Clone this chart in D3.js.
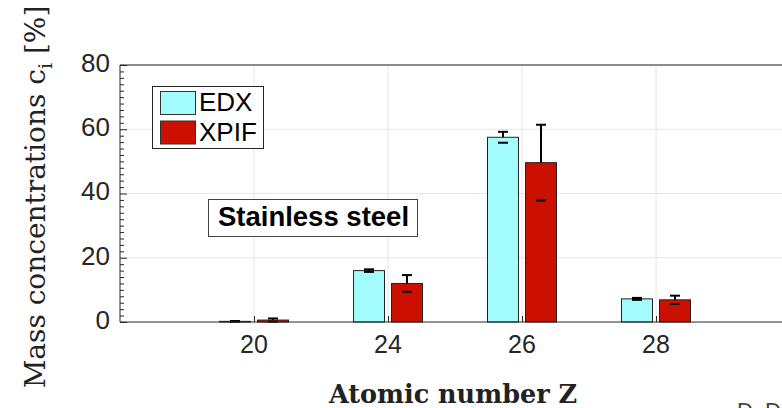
<!DOCTYPE html>
<html>
<head>
<meta charset="utf-8">
<script src="https://cdn.jsdelivr.net/npm/d3@7"></script>
<style>
  body { margin: 0; background: #fff; }
  svg { display: block; }
</style>
</head>
<body>
<div id="chart"></div>
<script>
// datos
var elementos = ["20", "24", "26", "28"];
var series = ["EDX", "XPIF"];
var edx = [0.2, 16.0, 57.5, 7.2];
var edxErr = [0.1, 0.4, 1.7, 0.3];
var xpif = [0.6, 12.0, 49.6, 6.9];
var xpifErr = [0.5, 2.6, 11.8, 1.3];
var yTicks = [0, 20, 40, 60, 80];

var colores = { EDX: "#a3fdff", XPIF: "#cc1000" };

var width = 782, height = 408;
var mLeft = 120, mRight = 790, mTop = 65, mBottom = 322;

var svg = d3.select("#chart").append("svg")
    .attr("width", width)
    .attr("height", height);

var x = d3.scalePoint().domain(elementos).range([mLeft, mRight]).padding(1);
var sub = d3.scaleBand().domain(series).range([-34.5, 34.5]).paddingInner(0.184);
var y = d3.scaleLinear().domain([0, 80]).range([mBottom, mTop]);

// rejilla
svg.append("g").selectAll("line")
    .data(yTicks.slice(1))
  .enter().append("line")
    .attr("x1", mLeft).attr("x2", mRight)
    .attr("y1", function(d) { return y(d); })
    .attr("y2", function(d) { return y(d); })
    .attr("stroke", "#e6e6e6").attr("stroke-width", 1);

svg.append("g").selectAll("line")
    .data(elementos)
  .enter().append("line")
    .attr("x1", function(d) { return x(d); })
    .attr("x2", function(d) { return x(d); })
    .attr("y1", mTop).attr("y2", mBottom)
    .attr("stroke", "#e6e6e6").attr("stroke-width", 1);

// barras
var datos = [];
elementos.forEach(function(e, i) {
    datos.push({ z: e, s: "EDX", v: edx[i], err: edxErr[i] });
    datos.push({ z: e, s: "XPIF", v: xpif[i], err: xpifErr[i] });
});

svg.append("g").selectAll("rect")
    .data(datos)
  .enter().append("rect")
    .attr("x", function(d) { return x(d.z) + sub(d.s); })
    .attr("width", sub.bandwidth())
    .attr("y", function(d) { return y(d.v); })
    .attr("height", function(d) { return y(0) - y(d.v); })
    .attr("fill", function(d) { return colores[d.s]; })
    .attr("stroke", "#222")
    .attr("stroke-width", 1);

// barras de error
var eb = svg.append("g").attr("stroke", "#000").attr("stroke-width", 2);
datos.forEach(function(d) {
    var cx = x(d.z) + sub(d.s) + sub.bandwidth() / 2;
    eb.append("line")
        .attr("x1", cx).attr("x2", cx)
        .attr("y1", y(d.v)).attr("y2", y(d.v + d.err));
    eb.append("line")
        .attr("x1", cx - 5).attr("x2", cx + 5)
        .attr("y1", y(d.v + d.err)).attr("y2", y(d.v + d.err));
    eb.append("line")
        .attr("x1", cx - 5).attr("x2", cx + 5)
        .attr("y1", y(d.v - d.err)).attr("y2", y(d.v - d.err));
});

// ejes
var axisColor = "#262626";
var yAxis = svg.append("g")
    .attr("transform", "translate(" + mLeft + ",0)")
    .call(d3.axisRight(y).tickValues(d3.range(0, 81, 2)).tickSize(4).tickFormat(""));
yAxis.select(".domain").remove();
yAxis.selectAll("line").attr("stroke", axisColor);
yAxis.selectAll(".tick line").filter(function(d) { return d % 20 === 0; }).attr("x2", 7);

svg.append("g").selectAll("text")
    .data(yTicks)
  .enter().append("text")
    .attr("x", mLeft - 10)
    .attr("y", function(d) { return y(d); })
    .attr("dy", "0.26em")
    .attr("text-anchor", "end")
    .attr("font-family", "Liberation Sans, Arial, sans-serif")
    .attr("font-size", 26)
    .attr("fill", axisColor)
    .text(function(d) { return d; });

var xAxis = svg.append("g")
    .attr("transform", "translate(0," + mBottom + ")")
    .call(d3.axisTop(x).tickSize(6).tickFormat(""));
xAxis.select(".domain").remove();
xAxis.selectAll("line").attr("stroke", axisColor);

svg.append("g").selectAll("text")
    .data(elementos)
  .enter().append("text")
    .attr("x", function(d) { return x(d); })
    .attr("y", mBottom + 31)
    .attr("text-anchor", "middle")
    .attr("font-family", "Liberation Sans, Arial, sans-serif")
    .attr("font-size", 25)
    .attr("fill", axisColor)
    .text(function(d) { return d; });

// marco
svg.append("path")
    .attr("d", "M" + mRight + "," + mTop + "H" + mLeft + "V" + mBottom + "H" + mRight)
    .attr("fill", "none")
    .attr("stroke", axisColor)
    .attr("stroke-width", 1);

// leyenda
var leg = svg.append("g");
leg.append("rect")
    .attr("x", 152.5).attr("y", 86.5).attr("width", 111).attr("height", 62)
    .attr("fill", "#fff").attr("stroke", axisColor);
series.forEach(function(s, i) {
    leg.append("rect")
        .attr("x", 160.5).attr("y", 91.5 + i * 29.5)
        .attr("width", 35).attr("height", 23)
        .attr("fill", colores[s]).attr("stroke", "#333");
    leg.append("text")
        .attr("x", 199).attr("y", 111 + i * 29.5)
        .attr("font-family", "Liberation Sans, Arial, sans-serif")
        .attr("font-size", 26)
        .attr("fill", "#000")
        .text(s);
});

// anotacion
svg.append("rect")
    .attr("x", 208.5).attr("y", 199.5).attr("width", 209).attr("height", 37)
    .attr("fill", "#fff").attr("stroke", "#444");
svg.append("text")
    .attr("x", 313.5).attr("y", 226)
    .attr("text-anchor", "middle")
    .attr("font-family", "Liberation Sans, Arial, sans-serif")
    .attr("font-weight", "bold")
    .attr("font-size", 27.5)
    .text("Stainless steel");

// titulos de ejes
svg.append("text")
    .attr("transform", "translate(45,197) rotate(-90)")
    .attr("text-anchor", "middle")
    .attr("font-family", "DejaVu Serif, serif")
    .attr("font-size", 28)
    .attr("fill", "#222")
    .html('Mass concentrations c<tspan dy="7" font-size="19">i</tspan><tspan dy="-7"> [%]</tspan>');

svg.append("text")
    .attr("x", 453)
    .attr("y", 403)
    .attr("text-anchor", "middle")
    .attr("font-family", "DejaVu Serif, serif")
    .attr("font-weight", "bold")
    .attr("font-size", 25.5)
    .attr("fill", "#222")
    .text("Atomic number Z");

svg.append("text")
    .attr("x", 737)
    .attr("y", 418)
    .attr("font-family", "Liberation Sans, Arial, sans-serif")
    .attr("font-size", 22)
    .attr("fill", "#444")
    .text("D. D");
</script>
</body>
</html>
